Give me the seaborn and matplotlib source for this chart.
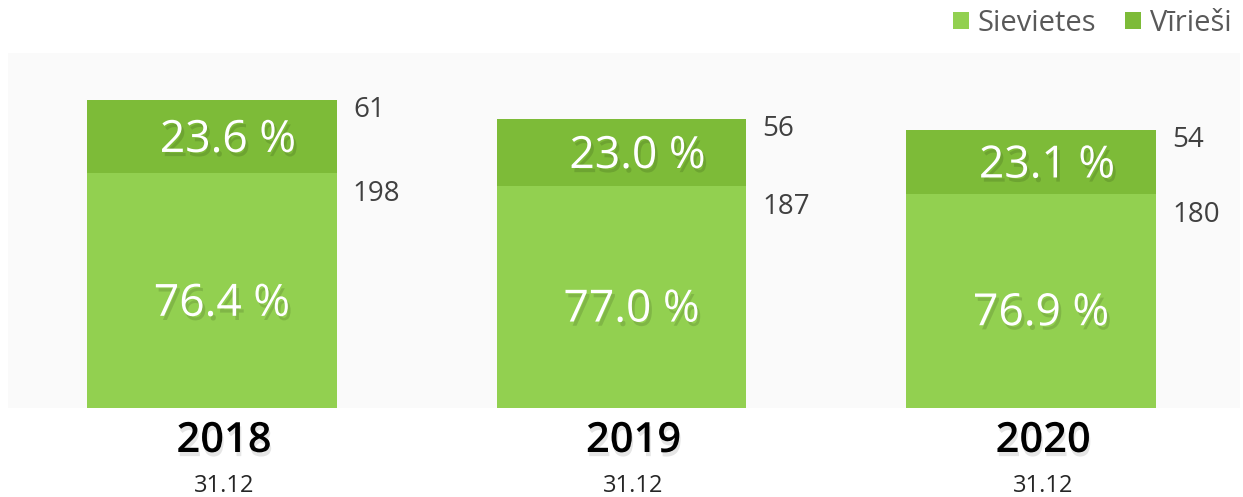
import matplotlib
matplotlib.use("Agg")
import matplotlib.pyplot as plt
import matplotlib.patheffects as pe
from matplotlib.patches import Patch
import seaborn as sns
import pandas as pd

years = ["2018", "2019", "2020"]
date_labels = ["31.12", "31.12", "31.12"]
women = [198, 187, 180]
men = [61, 56, 54]
women_pct = ["76.4 %", "77.0 %", "76.9 %"]
men_pct = ["23.6 %", "23.0 %", "23.1 %"]
series_names = ["Sievietes", "Vīrieši"]

c_women = "#92d050"
c_men = "#7dbb38"

sns.set_theme(style="white")
plt.rcParams["font.family"] = ["Open Sans", "DejaVu Sans"]

df = pd.DataFrame({"year": years, "women": women, "men": men})
df["total"] = df["women"] + df["men"]

fig = plt.figure(figsize=(12.43, 4.97), dpi=100)
ax = fig.add_axes([8 / 1243, 89 / 497, 1232 / 1243, 355 / 497])
ax.set_facecolor("#fafafa")

sns.barplot(data=df, x="year", y="total", color=c_men, saturation=1, width=0.61,
            linewidth=0, ax=ax)
sns.barplot(data=df, x="year", y="women", color=c_women, saturation=1, width=0.61,
            linewidth=0, ax=ax)

ax.set_xlim(-0.498, 2.51)
ax.set_ylim(0, 299)
for s in ax.spines.values():
    s.set_visible(False)
ax.set_xticks([])
ax.set_yticks([])
ax.set_xlabel("")
ax.set_ylabel("")

shadow = [pe.withSimplePatchShadow(offset=(2, -3), shadow_rgbFace="black", alpha=0.12)]
half = 0.305
for i in range(len(years)):
    tot = women[i] + men[i]
    ax.annotate(men_pct[i], xy=(i, women[i] + men[i] / 2), xytext=(16, -4),
                textcoords="offset pixels", ha="center", va="center",
                fontsize=32, color="white", path_effects=shadow)
    ax.annotate(women_pct[i], xy=(i, women[i] * 0.44), xytext=(10, 0),
                textcoords="offset pixels", ha="center", va="center",
                fontsize=32, color="white", path_effects=shadow)
    ax.annotate(str(men[i]), xy=(i + half, tot), xytext=(16, -10),
                textcoords="offset pixels", ha="left", va="center",
                fontsize=20, color="#404040")
    ax.annotate(str(women[i]), xy=(i + half, women[i]), xytext=(16, -21),
                textcoords="offset pixels", ha="left", va="center",
                fontsize=20, color="#404040")
    ax.annotate(years[i], xy=(i, 0), xycoords=("data", "axes fraction"),
                xytext=(12, -33), textcoords="offset pixels", ha="center", va="center",
                fontsize=30, fontweight="semibold", color="black",
                path_effects=[pe.withSimplePatchShadow(offset=(1, -3), shadow_rgbFace="black", alpha=0.1)])
    ax.annotate(date_labels[i], xy=(i, 0), xycoords=("data", "axes fraction"),
                xytext=(12, -78), textcoords="offset pixels", ha="center", va="center",
                fontsize=17, color="#262626")

handles = [Patch(facecolor=c_women, edgecolor="none"), Patch(facecolor=c_men, edgecolor="none")]
fig.legend(handles, series_names, loc="upper right", bbox_to_anchor=(1.012, 1.035), ncol=2,
           frameon=False, handlelength=0.55, handleheight=0.55, handletextpad=0.3,
           columnspacing=1.0, fontsize=21, labelcolor="#595959")

fig.savefig("out.png", dpi=100, facecolor="white")
